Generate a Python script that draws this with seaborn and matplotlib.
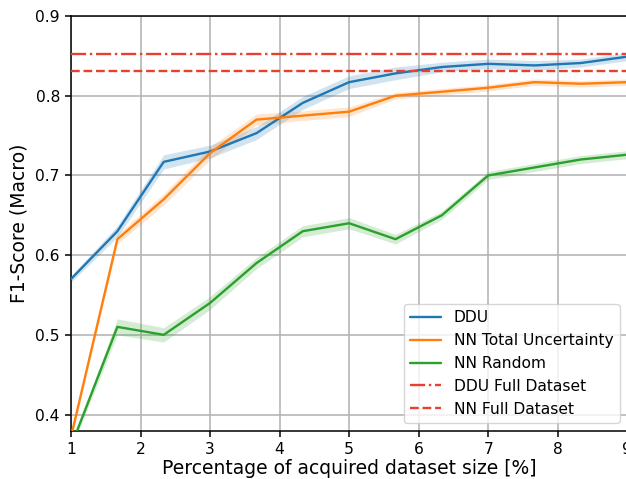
import numpy as np
import pandas as pd
import seaborn as sns
import matplotlib
matplotlib.use("Agg")
import matplotlib.pyplot as plt
from matplotlib.lines import Line2D

# Acquired share of the training set (%) at each active-learning step
pct = [1.0, 1.667, 2.333, 3.0, 3.667, 4.333, 5.0, 5.667, 6.333, 7.0, 7.667, 8.333, 9.0]

# Mean macro F1 per strategy
ddu_mean = [0.570, 0.630, 0.717, 0.730, 0.753, 0.791, 0.817, 0.828, 0.836, 0.840, 0.838, 0.841, 0.849]
nn_total_mean = [0.372, 0.620, 0.670, 0.728, 0.770, 0.775, 0.780, 0.800, 0.805, 0.810, 0.817, 0.815, 0.817]
nn_random_mean = [0.360, 0.510, 0.500, 0.540, 0.590, 0.630, 0.640, 0.620, 0.650, 0.700, 0.710, 0.720, 0.726]

# Spread (std) across runs
ddu_std = [0.004, 0.007, 0.009, 0.008, 0.008, 0.008, 0.008, 0.008, 0.006, 0.006, 0.006, 0.005, 0.005]
nn_total_std = [0.004, 0.006, 0.007, 0.008, 0.007, 0.006, 0.006, 0.004, 0.004, 0.004, 0.004, 0.004, 0.004]
nn_random_std = [0.004, 0.010, 0.009, 0.008, 0.007, 0.007, 0.007, 0.006, 0.005, 0.005, 0.005, 0.005, 0.005]

# Reference scores when training on the full dataset
ddu_full = 0.852
nn_full = 0.831

series = {
    "DDU": (ddu_mean, ddu_std, "#1f77b4"),
    "NN Total Uncertainty": (nn_total_mean, nn_total_std, "#ff7f0e"),
    "NN Random": (nn_random_mean, nn_random_std, "#2ca02c"),
}

rows = []
for name, (mean, std, _) in series.items():
    for x, m, s in zip(pct, mean, std):
        rows.append({"pct": x, "f1": m, "std": s, "method": name})
df = pd.DataFrame(rows)

sns.set_style("white")
plt.rcParams["font.family"] = ["DejaVu Sans"]
plt.rcParams["text.color"] = "black"
plt.rcParams["axes.labelcolor"] = "black"

fig = plt.figure(figsize=(6.26, 4.79), dpi=100)
ax = fig.add_axes([71 / 626, 1 - 430.5 / 479, (627.3 - 71) / 626, (430.5 - 16) / 479])

lw = 1.7
palette = {name: c for name, (_, _, c) in series.items()}
sns.lineplot(data=df, x="pct", y="f1", hue="method", palette=palette,
             ax=ax, linewidth=lw, legend=False, zorder=3)
for name, (mean, std, color) in series.items():
    m = np.array(mean)
    s = np.array(std)
    ax.fill_between(pct, m - s, m + s, color=color, alpha=0.2, linewidth=0, zorder=2)

red = "#e8402f"
ax.axhline(ddu_full, color=red, linestyle="-.", linewidth=lw, zorder=3)
ax.axhline(nn_full, color=red, linestyle="--", linewidth=lw, zorder=3)

ax.set_xlim(1, 9)
ax.set_ylim(0.38, 0.9)
ax.set_xticks(range(1, 10))
ax.set_yticks([0.4, 0.5, 0.6, 0.7, 0.8, 0.9])
ax.grid(True, color="#b0b0b0", linewidth=1.1, zorder=0)
ax.set_axisbelow(True)
for sp in ax.spines.values():
    sp.set_color("black")
    sp.set_linewidth(1.1)
ax.tick_params(axis="both", which="both", direction="out", length=4.5, width=1.1,
               labelsize=11.2, colors="black", bottom=True, left=True)

ax.set_xlabel("Percentage of acquired dataset size [%]", fontsize=13.5, labelpad=2,
              color="black")
ax.set_ylabel("F1-Score (Macro)", fontsize=13.5, labelpad=5, color="black")

handles = [
    Line2D([], [], color="#1f77b4", lw=lw),
    Line2D([], [], color="#ff7f0e", lw=lw),
    Line2D([], [], color="#2ca02c", lw=lw),
    Line2D([], [], color=red, lw=lw, ls="-."),
    Line2D([], [], color=red, lw=lw, ls="--"),
]
labels = ["DDU", "NN Total Uncertainty", "NN Random", "DDU Full Dataset", "NN Full Dataset"]
leg = ax.legend(handles, labels, loc="lower right", fontsize=11.2, frameon=True,
                framealpha=0.8)
for t in leg.get_texts():
    t.set_color("black")

fig.savefig("out.png", dpi=100)
